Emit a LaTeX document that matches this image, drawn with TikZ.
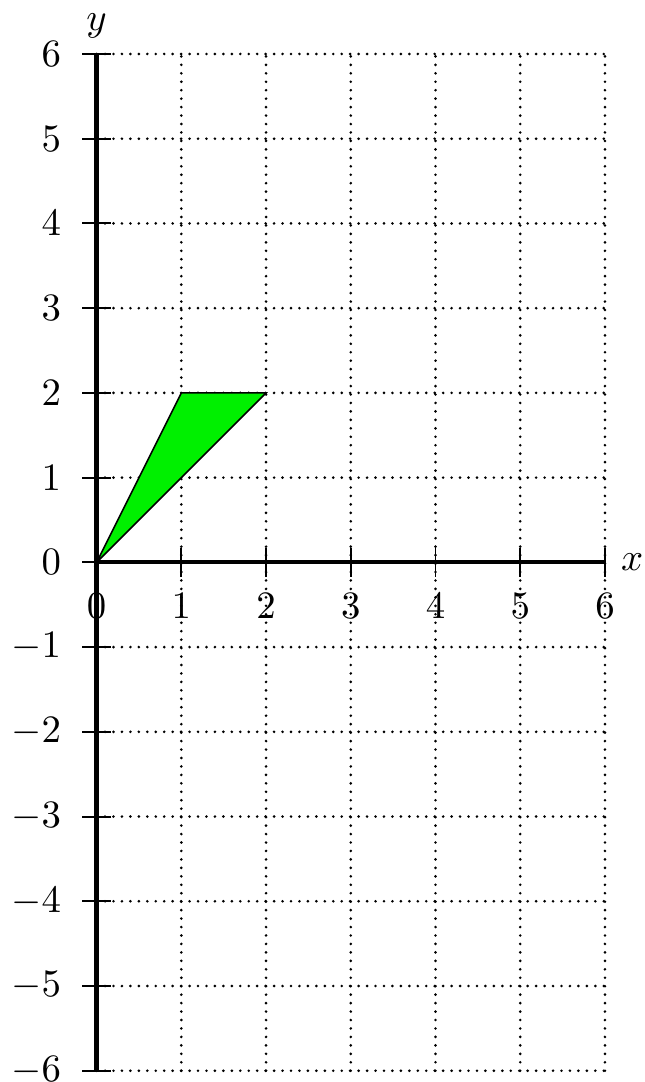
\documentclass[tikz,border=0pt]{standalone}
\begin{document}
\begin{tikzpicture}[x=0.768cm,y=0.768cm,
  gridline/.style={line width=0.75pt,line cap=round,dash pattern=on 0pt off 2.18pt},
  axisline/.style={line width=1.1pt},
  tickline/.style={line width=0.5pt},
  ticklab/.style={inner sep=0pt}]
\useasboundingbox (-1.140,-6.133) rectangle (6.466,6.637);
% tick labels
\foreach \i in {0,...,6} {
  \node[ticklab] (xl\i) at (\i,-0.513) {$\i$};
}
\foreach \i in {-6,...,6} {
  \node[ticklab,anchor=east] (yl\i) at (-0.41,\i) {$\i$};
}
% grid
\foreach \i in {1,...,6} {
  \draw[gridline] (\i,-6) -- (\i,6);
}
\foreach \j in {-6,...,6} {
  \draw[gridline] (0,\j) -- (6,\j);
}
% axes
\draw[axisline] (0,-6) -- (0,6);
\draw[axisline] (0,0) -- (6,0);
\foreach \i in {0,...,6} {
  \draw[tickline] (\i,-0.17) -- (\i,0.17);
}
\foreach \j in {-6,...,6} {
  \draw[tickline] (-0.17,\j) -- (0.17,\j);
}
% triangle
\coordinate (O) at (0,0);
\coordinate (A) at (1,2);
\coordinate (B) at (2,2);
\filldraw[fill={rgb,255:red,0;green,240;blue,0},draw=black,line width=0.4pt] (O) -- (A) -- (B) -- cycle;
% axis labels
\node[anchor=base,inner sep=0pt] (ylab) at (0,6.28) {$y$};
\node[inner sep=0pt] (xlab) at (6.32,0) {$x$};
\end{tikzpicture}
\end{document}
